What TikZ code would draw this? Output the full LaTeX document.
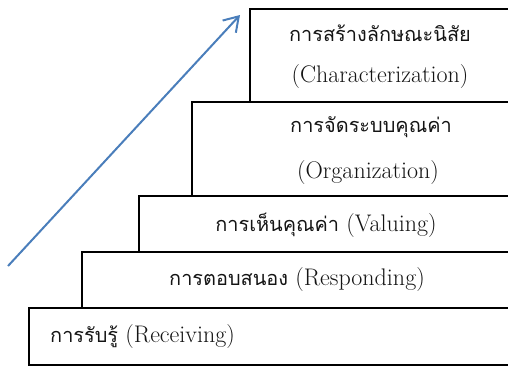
\documentclass[tikz,border=0pt]{standalone}
\usepackage{fontspec}
\newfontfamily\thai[Script=Thai,Scale=0.83]{Loma}
\usetikzlibrary{arrows.meta}
\definecolor{arrowblue}{RGB}{74,126,187}
\definecolor{txt}{RGB}{20,20,20}
\begin{document}
\begin{tikzpicture}[x=1pt,y=-1pt,
  stepbox/.style={draw=black,line width=2pt,anchor=north west,inner sep=0pt,outer sep=0pt},
  label/.style={text=txt,font=\fontsize{24}{28}\selectfont,inner sep=0pt},
  rise/.style={draw=arrowblue,line width=2pt,-{Straight Barb[length=14pt,width=18pt,line width=2pt]}}]
\useasboundingbox (0,0) rectangle (508,367);
\clip (0,0) rectangle (508,367);
\node[stepbox,minimum width=270pt,minimum height=93pt] (b1) at (250,9) {};
\node[stepbox,minimum width=328pt,minimum height=94pt] (b2) at (192,102) {};
\node[stepbox,minimum width=381pt,minimum height=56pt] (b3) at (139,196) {};
\node[stepbox,minimum width=438pt,minimum height=56pt] (b4) at (82,252) {};
\node[stepbox,minimum width=491pt,minimum height=57pt] (b5) at (29,308) {};
\node[label] (t1a) at (380,33) {\thai การสร้างลักษณะนิสัย};
\node[label] (t1b) at (380,77) {(Characterization)};
\node[label] (t2a) at (371,127) {\thai การจัดระบบคุณค่า};
\node[label] (t2b) at (368,173) {(Organization)};
\node[label] (t3) at (326,225) {{\thai การเห็นคุณค่า} (Valuing)};
\node[label] (t4) at (297,280) {{\thai การตอบสนอง} (Responding)};
\node[label,anchor=west] (t5) at (50,337) {{\thai การรับรู้} (Receiving)};
\coordinate (a0) at (8,266);
\coordinate (a1) at (240,15);
\draw[rise] (a0) -- (a1);
\end{tikzpicture}
\end{document}
